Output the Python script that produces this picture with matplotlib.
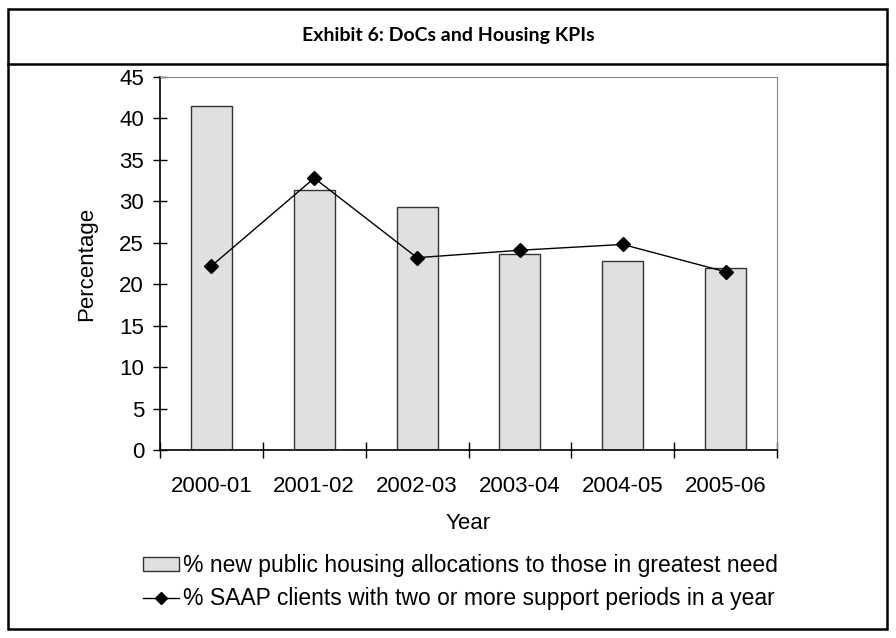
import matplotlib
matplotlib.use("Agg")
from matplotlib import pyplot as plt
from matplotlib.patches import Rectangle
from matplotlib.lines import Line2D
import numpy as np

plt.rcParams["font.family"] = ["Liberation Sans", "DejaVu Sans"]

years = ["2000-01", "2001-02", "2002-03", "2003-04", "2004-05", "2005-06"]
housing_alloc = [41.5, 31.4, 29.3, 23.7, 22.8, 21.9]
saap_clients = [22.2, 32.8, 23.2, 24.1, 24.8, 21.5]

bar_label = "% new public housing allocations to those in greatest need"
line_label = "% SAAP clients with two or more support periods in a year"

FS = 16
W, H = 896, 638

fig = plt.figure(figsize=(W / 100, H / 100), dpi=100)

# outer frame and title band
fig.add_artist(Rectangle((8 / W, 1 - 629 / H), 879 / W, 620 / H,
                         transform=fig.transFigure, fill=False,
                         edgecolor="black", linewidth=1.8))
fig.add_artist(Line2D([8 / W, 887 / W], [1 - 64 / H, 1 - 64 / H],
                      transform=fig.transFigure, color="black", linewidth=1.8))
fig.text(0.5, 1 - 36 / H, "Exhibit 6: DoCs and Housing KPIs",
         ha="center", va="center", fontsize=14, fontweight="bold",
         family=["Lato", "DejaVu Sans"])

ax = fig.add_axes([160 / W, 1 - 450 / H, 617 / W, 373 / H])
x = np.arange(len(years))
ax.bar(x, housing_alloc, width=0.4, color="#e0e0e0", edgecolor="#333333",
       linewidth=1.0, zorder=2)
ax.plot(x, saap_clients, color="black", linewidth=1.0, marker="D",
        markersize=7, zorder=3)

ax.set_xlim(-0.5, len(years) - 0.5)
ax.set_ylim(0, 45)
ax.set_yticks(np.arange(0, 46, 5))
ax.set_xticks(x)
ax.set_xticklabels(years)
ax.set_xticks(np.arange(-0.5, len(years)), minor=True)
ax.tick_params(axis="x", which="major", length=0, pad=18.5, labelsize=FS)
ax.tick_params(axis="x", which="minor", direction="inout", length=11, width=1)
ax.tick_params(axis="y", direction="inout", length=10, width=1, labelsize=FS, pad=6.5)

for side in ["top", "right"]:
    ax.spines[side].set_color("#888888")
for side in ["left", "bottom"]:
    ax.spines[side].set_color("black")
    ax.spines[side].set_linewidth(1.2)

ax.set_xlabel("Year", fontsize=FS, labelpad=12)
ax.set_ylabel("Percentage", fontsize=FS, labelpad=16)

handles = [
    Rectangle((0, 0), 1, 1, facecolor="#e0e0e0", edgecolor="#333333", linewidth=1.0),
    Line2D([0], [0], color="black", linewidth=1.0, marker="D", markersize=6),
]
fig.legend(handles, [bar_label, line_label], loc="upper left",
           bbox_to_anchor=(143 / W, 1 - 554 / H), frameon=False,
           fontsize=16.5, handlelength=1.55, handleheight=0.55, handletextpad=0.2,
           labelspacing=0.45, borderpad=0, borderaxespad=0)

fig.savefig("out.png", dpi=100)
